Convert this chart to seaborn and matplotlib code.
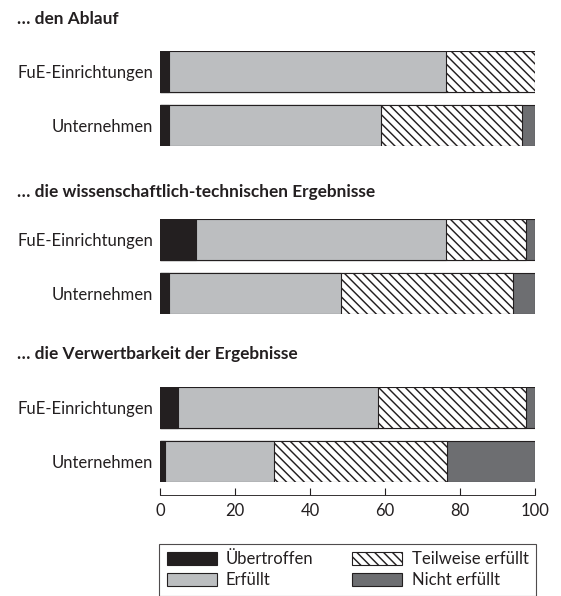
import numpy as np
import pandas as pd
import seaborn as sns
import matplotlib
matplotlib.use("Agg")
import matplotlib.pyplot as plt
from matplotlib.patches import Patch

# ---------------- data ----------------
groups = ["… den Ablauf",
          "… die wissenschaftlich-technischen Ergebnisse",
          "… die Verwertbarkeit der Ergebnisse"]
actors = ["FuE-Einrichtungen", "Unternehmen"]
categories = ["Übertroffen", "Erfüllt", "Teilweise erfüllt", "Nicht erfüllt"]
# order: (Ablauf: FuE, Unt), (wiss.-techn.: FuE, Unt), (Verwertbarkeit: FuE, Unt)
uebertroffen = [2.5, 2.5, 9.5, 2.5, 4.9, 1.2]
erfuellt = [73.7, 56.4, 66.7, 45.7, 53.3, 29.3]
teilweise = [23.8, 37.5, 21.3, 45.8, 39.4, 45.9]
nicht_erfuellt = [0.0, 3.6, 2.5, 6.0, 2.4, 23.6]
x_ticks = [0, 20, 40, 60, 80, 100]

colors = ["#231f20", "#bcbec0", "#ffffff", "#6d6e71"]
hatches = [None, None, "\\\\\\", None]

# ---------------- table ----------------
df = pd.DataFrame({
    "group": np.repeat(groups, 2),
    "actor": actors * 3,
    categories[0]: uebertroffen,
    categories[1]: erfuellt,
    categories[2]: teilweise,
    categories[3]: nicht_erfuellt,
})
cum = df[categories].cumsum(axis=1)
for c in categories:
    df["cum_" + c] = cum[c]

# ---------------- figure ----------------
DPI = 80
W, H = 561, 596
plt.rcParams["font.family"] = ["Lato", "DejaVu Sans"]
plt.rcParams["hatch.linewidth"] = 1.3
FS = 15
fig = plt.figure(figsize=(W / DPI, H / DPI), dpi=DPI)

x0, x1 = 160, 535
bar_tops = [51, 219, 387]
bar_span = 95
title_y = [19, 192, 354]
wbar = 0.77

for gi, g in enumerate(groups):
    top = bar_tops[gi]
    ax = fig.add_axes([x0 / W, 1 - (top + bar_span) / H, (x1 - x0) / W, bar_span / H])
    sub = df[df["group"] == g]
    for ci in reversed(range(len(categories))):
        c = categories[ci]
        n_before = len(ax.patches)
        sns.barplot(data=sub, x="cum_" + c, y="actor", order=actors, orient="h",
                    color=colors[ci], saturation=1, width=wbar,
                    edgecolor="#231f20", linewidth=1.0, ax=ax, errorbar=None)
        if hatches[ci]:
            for p in ax.patches[n_before:]:
                p.set_hatch(hatches[ci])
    ax.set_xlim(0, 100)
    ax.set_ylim(1 + wbar / 2, -wbar / 2)
    ax.set_xlabel("")
    ax.set_ylabel("")
    ax.set_facecolor("none")
    for s in ["top", "right", "left"]:
        ax.spines[s].set_visible(False)
    ax.tick_params(axis="y", length=0, pad=6, labelsize=FS, labelcolor="#231f20")
    if gi < 2:
        ax.spines["bottom"].set_visible(False)
        ax.set_xticks([])
    else:
        ax.spines["bottom"].set_position(("outward", 13 * 72 / DPI))
        ax.spines["bottom"].set_color("#231f20")
        ax.set_xticks(x_ticks)
        ax.set_xticklabels([str(t) for t in x_ticks])
        ax.tick_params(axis="x", direction="in", length=7 * 72 / DPI, width=1,
                       color="#231f20", pad=7, labelsize=FS, labelcolor="#231f20")
    fig.text(17 / W, 1 - title_y[gi] / H, g, ha="left", va="center",
             fontsize=15.5, fontweight="bold", color="#231f20")

handles = [Patch(facecolor=colors[i], edgecolor="#231f20", hatch=hatches[i],
                 linewidth=1.0, label=categories[i]) for i in range(4)]
leg = fig.legend(handles=handles, ncol=2, loc="upper left",
                 bbox_to_anchor=(159 / W, 1 - 544 / H, 377 / W, 0.0001),
                 mode="expand", frameon=True, fancybox=False, fontsize=FS,
                 handlelength=3.0, handleheight=0.85, handletextpad=0.55,
                 labelspacing=0.3, borderpad=0.45, borderaxespad=0)
leg.get_frame().set_edgecolor("#231f20")
leg.get_frame().set_linewidth(1.0)
for t in leg.get_texts():
    t.set_color("#231f20")

fig.savefig("out.png", dpi=DPI)
